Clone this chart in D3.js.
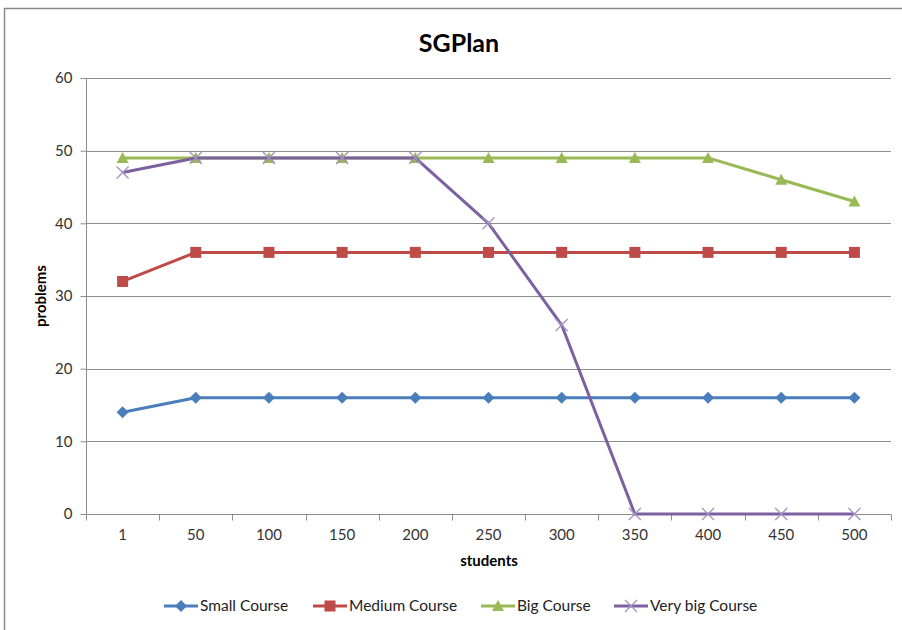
<!DOCTYPE html>
<html><head><meta charset="utf-8">
<script src="https://cdn.jsdelivr.net/npm/d3@7"></script>
<style>body{margin:0;background:#fff}svg{display:block;font-family:Lato,"Open Sans",sans-serif}</style>
</head><body><svg id="c" width="902" height="630"></svg>
<script>
const categories = ["1","50","100","150","200","250","300","350","400","450","500"];
const smallCourse = [14,16,16,16,16,16,16,16,16,16,16];
const mediumCourse = [32,36,36,36,36,36,36,36,36,36,36];
const bigCourse = [49,49,49,49,49,49,49,49,49,46,43];
const veryBigCourse = [47,49,49,49,49,40,26,0,0,0,0];
const yTicks = [0,10,20,30,40,50,60];
const seriesNames = ["Small Course","Medium Course","Big Course","Very big Course"];

const series = [
  {name:seriesNames[0], values:smallCourse, color:"#4A7EBB", marker:"diamond"},
  {name:seriesNames[1], values:mediumCourse, color:"#BE4B48", marker:"square"},
  {name:seriesNames[2], values:bigCourse, color:"#98B954", marker:"triangle"},
  {name:seriesNames[3], values:veryBigCourse, color:"#7D60A0", marker:"x"}
];

const svg = d3.select("#c");
const L=86, R=891, T=78, B=514;
const x = d3.scaleBand().domain(categories).range([L,R]);
const y = d3.scaleLinear().domain([0,60]).range([B,T]);

svg.append("rect").attr("x",4.5).attr("y",8.5).attr("width",920).attr("height",640)
  .attr("fill","none").attr("stroke","#8a8a8a").attr("stroke-width",1.5);

svg.append("text").attr("x",459).attr("y",52).attr("text-anchor","middle")
  .attr("font-size",25).attr("font-weight","bold").attr("fill","#000").text("SGPlan");

// gridlines
svg.append("g").selectAll("line").data(yTicks.filter(d=>d>0)).join("line")
  .attr("x1",L).attr("x2",R).attr("y1",d=>Math.round(y(d))+0.5).attr("y2",d=>Math.round(y(d))+0.5)
  .attr("stroke","#8c8c8c").attr("stroke-width",1);

// y axis
const ya = svg.append("g").attr("transform",`translate(${L+0.5},0)`)
  .call(d3.axisLeft(y).tickValues(yTicks).tickSize(6).tickPadding(8));
ya.select(".domain").attr("stroke","#8c8c8c").attr("d",`M0,${T}V${B}`);
ya.selectAll(".tick line").attr("stroke","#8c8c8c");
ya.selectAll(".tick text").attr("font-size",15).attr("fill","#333").attr("font-family","Lato,sans-serif");

// x axis
const xa = svg.append("g").attr("transform",`translate(0,${B+0.5})`)
  .call(d3.axisBottom(x).tickSize(0).tickPadding(15));
xa.select(".domain").attr("stroke","#8c8c8c").attr("d",`M${L},0H${R}`);
xa.selectAll(".tick text").attr("font-size",15).attr("fill","#333").attr("font-family","Lato,sans-serif");
const edges = categories.map(c=>x(c)).concat([R]);
xa.append("g").selectAll("line").data(edges).join("line")
  .attr("x1",d=>Math.round(d)+0.5).attr("x2",d=>Math.round(d)+0.5).attr("y1",0).attr("y2",6)
  .attr("stroke","#8c8c8c");

svg.append("text").attr("x",489).attr("y",566).attr("text-anchor","middle")
  .attr("font-size",15).attr("font-weight","bold").text("students");
svg.append("text").attr("transform","translate(46,296) rotate(-90)").attr("text-anchor","middle")
  .attr("font-size",15).attr("font-weight","bold").text("problems");

const cx = c => x(c) + x.bandwidth()/2;
const line = d3.line().x((d,i)=>cx(categories[i])).y(d=>y(d));

function drawMarker(g, type, color, px, py){
  if(type==="diamond"){
    g.append("path").attr("d",`M${px},${py-6}L${px+6},${py}L${px},${py+6}L${px-6},${py}Z`).attr("fill",color);
  } else if(type==="square"){
    g.append("rect").attr("x",px-5.5).attr("y",py-5.5).attr("width",11).attr("height",11).attr("fill",color);
  } else if(type==="triangle"){
    g.append("path").attr("d",`M${px},${py-6}L${px+6},${py+5}L${px-6},${py+5}Z`).attr("fill",color);
  } else {
    g.append("path").attr("d",`M${px-6},${py-6}L${px+6},${py+6}M${px+6},${py-6}L${px-6},${py+6}`)
      .attr("stroke","#a493c0").attr("stroke-width",1.3).attr("fill","none");
  }
}

series.forEach(s=>{
  const g = svg.append("g");
  g.append("path").attr("d",line(s.values)).attr("fill","none").attr("stroke",s.color)
    .attr("stroke-width",3).attr("stroke-linejoin","round");
  s.values.forEach((v,i)=>drawMarker(g,s.marker,s.color,cx(categories[i]),y(v)));
});

// legend
const legX = [164,313,481,614];
const lg = svg.append("g");
series.forEach((s,i)=>{
  const x0 = legX[i], yy = 606;
  lg.append("line").attr("x1",x0).attr("x2",x0+34).attr("y1",yy).attr("y2",yy)
    .attr("stroke",s.color).attr("stroke-width",3);
  drawMarker(lg,s.marker,s.color,x0+17,yy);
  lg.append("text").attr("x",x0+36).attr("y",yy+5).attr("font-size",15.5).attr("fill","#222").text(s.name);
});
</script></body></html>
